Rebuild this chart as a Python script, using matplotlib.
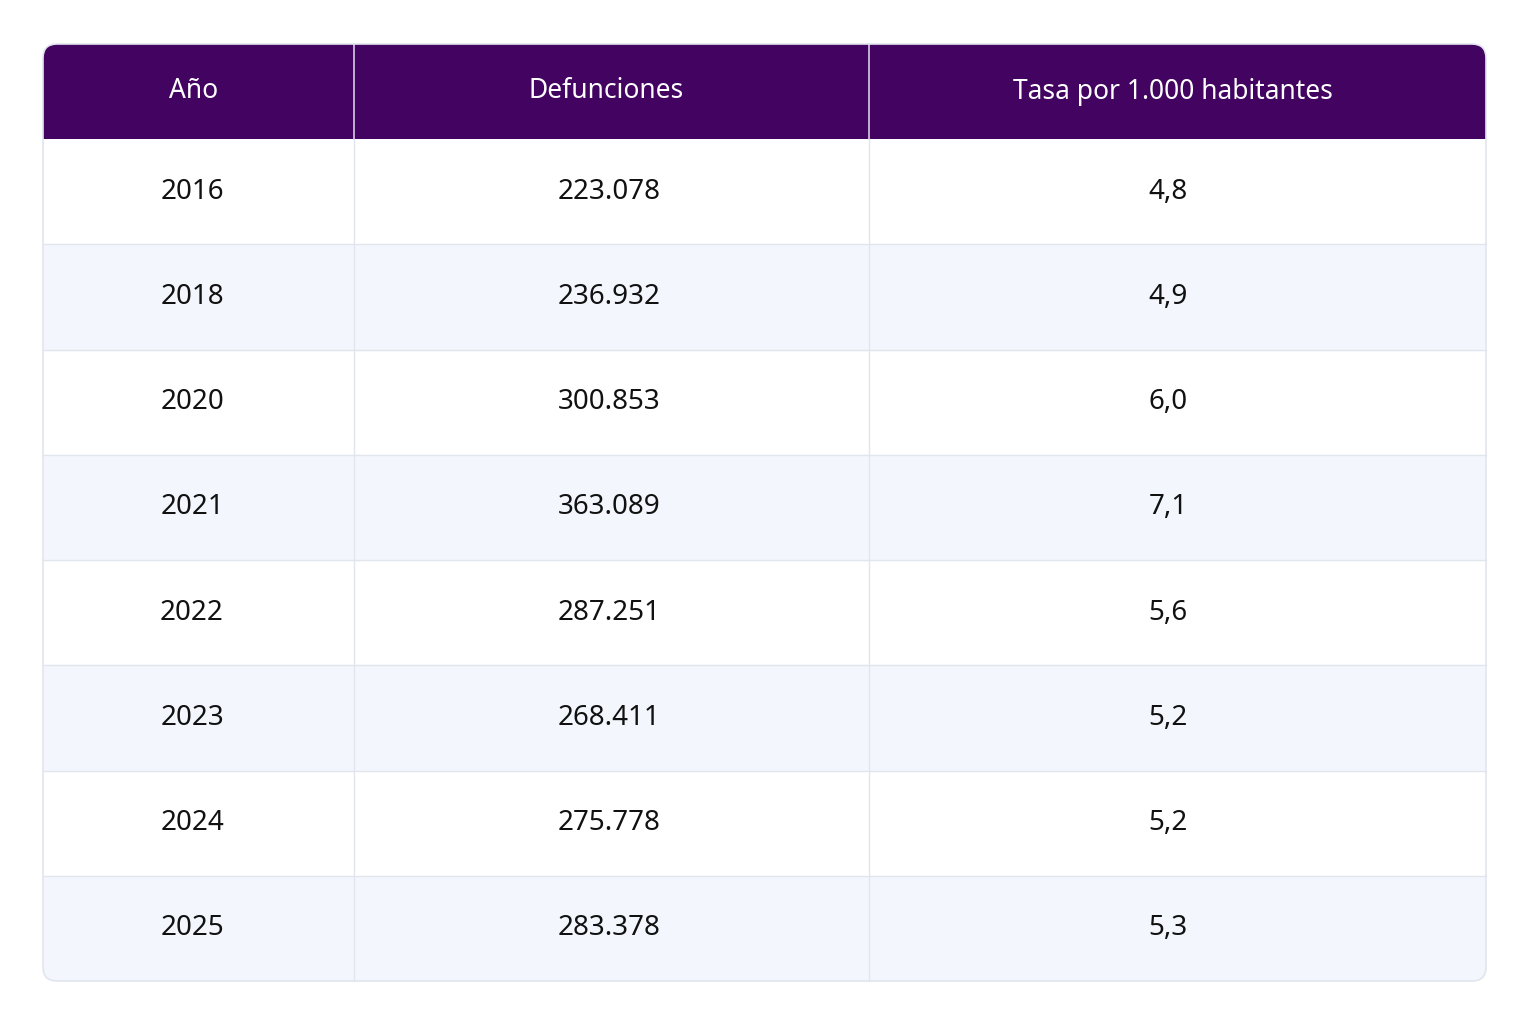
import matplotlib
matplotlib.use("Agg")
import matplotlib.pyplot as plt
from matplotlib.patches import FancyBboxPatch, Rectangle
import matplotlib.patches as mp
from matplotlib.path import Path

headers = ["Año", "Defunciones", "Tasa por 1.000 habitantes"]
years = ["2016", "2018", "2020", "2021", "2022", "2023", "2024", "2025"]
deaths = ["223.078", "236.932", "300.853", "363.089", "287.251", "268.411", "275.778", "283.378"]
rates = ["4,8", "4,9", "6,0", "7,1", "5,6", "5,2", "5,2", "5,3"]

plt.rcParams['font.family'] = ['Noto Sans', 'DejaVu Sans']
fig = plt.figure(figsize=(15.36, 10.24), dpi=100)
ax = fig.add_axes([0, 0, 1, 1])
ax.set_xlim(0, 1536); ax.set_ylim(1024, 0); ax.axis('off')

L, R, T, HB, B = 43, 1486, 44, 139, 981
colx = [43, 354, 869, 1486]
textx = [192, 609, 1168]
rad = 14
header_c = "#430361"
alt_c = "#F3F7FD"
grid_c = "#E1E5EE"

# clip shape: rounded rect
clip = FancyBboxPatch((L, T), R - L, B - T, boxstyle=f"round,pad=0,rounding_size={rad}",
                      facecolor="white", edgecolor="none", zorder=1)
ax.add_patch(clip)

n = len(years)
rh = (B - HB) / n
items = []
items.append(Rectangle((L, T), R - L, HB - T, facecolor=header_c, edgecolor="none", zorder=2))
for i in range(n):
    y0 = HB + i * rh
    fc = "white" if i % 2 == 0 else alt_c
    items.append(Rectangle((L, y0), R - L, rh, facecolor=fc, edgecolor="none", zorder=2))
for p in items:
    ax.add_patch(p); p.set_clip_path(clip)

for i in range(1, n):
    y = HB + i * rh
    ax.plot([L, R], [y, y], color=grid_c, lw=1, zorder=3)
for x in colx[1:-1]:
    ax.plot([x, x], [T, HB], color="#D9CCE3", lw=1.2, zorder=3)
    ax.plot([x, x], [HB, B], color=grid_c, lw=1, zorder=3)

border = FancyBboxPatch((L, T), R - L, B - T, boxstyle=f"round,pad=0,rounding_size={rad}",
                        facecolor="none", edgecolor=grid_c, lw=1.2, zorder=4)
ax.add_patch(border)

for j, h in enumerate(headers):
    ax.text((colx[j] + colx[j + 1]) / 2 - 5, (T + HB) / 2, h, color="white", fontsize=19,
            fontweight="bold", ha="center", va="center", zorder=5)
for i in range(n):
    yc = HB + (i + 0.5) * rh
    ax.text(textx[0], yc, years[i], fontsize=20, fontweight="bold", color="#111111",
            ha="center", va="center", zorder=5)
    ax.text(textx[1], yc, deaths[i], fontsize=20, color="#111111", ha="center", va="center", zorder=5)
    ax.text(textx[2], yc, rates[i], fontsize=20, color="#111111", ha="center", va="center", zorder=5)

fig.savefig("out.png", dpi=100, facecolor="white")
